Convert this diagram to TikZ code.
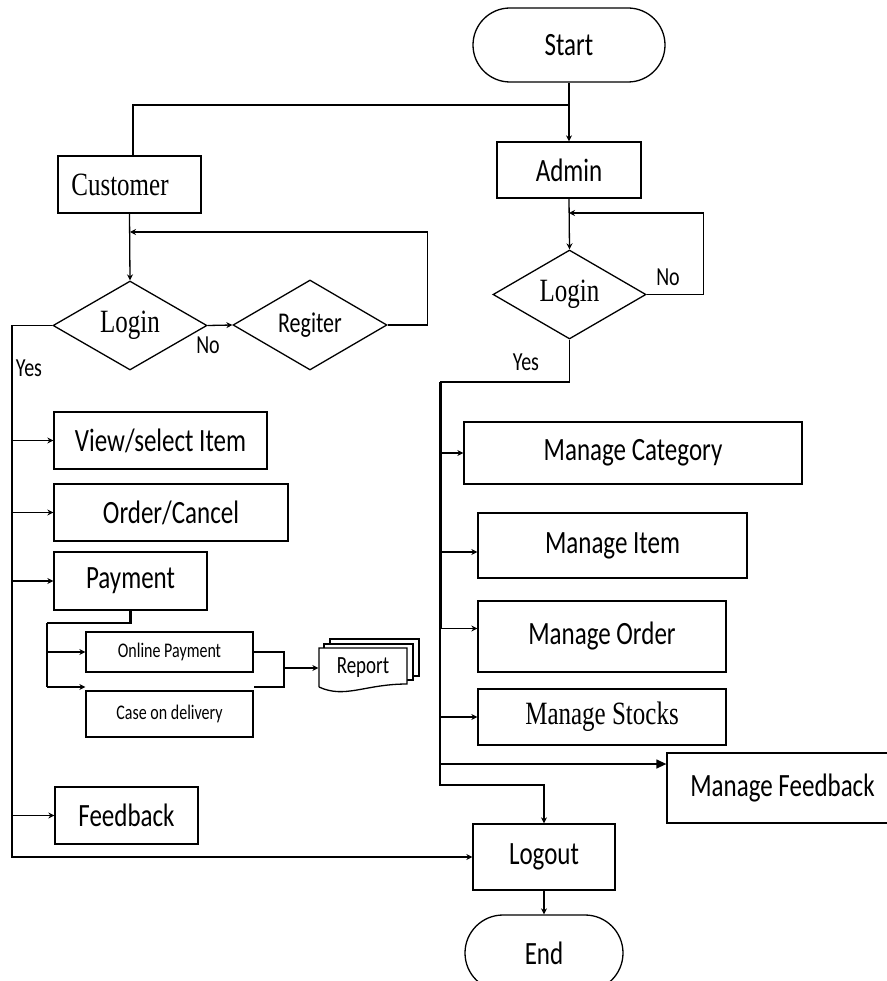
\documentclass[tikz,border=0pt]{standalone}
\usepackage{fontspec}
\setmainfont{Carlito}
\newfontfamily\tmsfont{Liberation Serif}
\usepackage{graphicx}
\usetikzlibrary{arrows.meta,shapes.geometric,calc}
\newcommand{\vtxt}[1]{\scalebox{1}[1.3]{#1}}
\begin{document}
\begin{tikzpicture}[x=1pt,y=-1pt,line width=1.3pt,
  box/.style={draw,rectangle,inner sep=0pt,font=\fontsize{25}{30}\selectfont},
  tbox/.style={box,font=\tmsfont\fontsize{25}{30}\selectfont},
  sbox/.style={draw,rectangle,inner sep=0pt,font=\fontsize{16}{20}\selectfont},
  pill/.style={draw,rectangle,inner sep=0pt,font=\fontsize{25}{30}\selectfont},
  dia/.style={draw,diamond,aspect=1.7,inner sep=0pt,font=\fontsize{25}{30}\selectfont},
  tdia/.style={dia,font=\tmsfont\fontsize{25}{30}\selectfont},
  arr/.style={-{Stealth[length=6pt,width=6pt]}},
  lbl/.style={inner sep=0pt,font=\fontsize{20}{24}\selectfont}]
\useasboundingbox (0,0) rectangle (886,981);

% nodes
\node[pill,minimum width=192pt,minimum height=74pt,rounded corners=37pt] (start) at (569,45) {\vtxt{Start}};
\node[tbox,minimum width=143pt,minimum height=57pt] (customer) at (129.5,184.5) {\vtxt{Customer}\hspace*{19pt}};
\node[box,minimum width=144pt,minimum height=56pt] (admin) at (569,170) {\vtxt{Admin}};
\node[tdia,minimum width=153pt,minimum height=89pt] (login2) at (569.5,294.5) {\vtxt{Login}};
\node[tdia,minimum width=154pt,minimum height=89pt] (login1) at (130,325.5) {\vtxt{Login}};
\node[dia,minimum width=154pt,minimum height=90pt,font=\fontsize{22}{26}\selectfont] (register) at (310,325) {\vtxt{Regiter}};
\node[box,minimum width=213pt,minimum height=57pt] (view) at (160.5,440.5) {\vtxt{View/select Item}};
\node[box,minimum width=234pt,minimum height=57pt] (order) at (171,512.5) {\vtxt{Order/Cancel}};
\node[box,minimum width=153pt,minimum height=58pt] (payment) at (130.5,581) {\vtxt{Payment}};
\node[sbox,minimum width=167pt,minimum height=40pt] (online) at (169.5,652) {\vtxt{Online Payment}};
\node[sbox,minimum width=167pt,minimum height=46pt] (cod) at (169.5,714) {\vtxt{Case on delivery}};
\node[box,minimum width=143pt,minimum height=57pt] (feedback) at (126.5,815.5) {\vtxt{Feedback}};
\node[box,minimum width=338pt,minimum height=62pt] (mcat) at (633,453) {\vtxt{Manage Category}};
\node[box,minimum width=269pt,minimum height=65pt] (mitem) at (612.5,545.5) {\vtxt{Manage Item}};
\node[box,minimum width=248pt,minimum height=71pt] (morder) at (602,636.5) {\vtxt{Manage Order}};
\node[tbox,minimum width=248pt,minimum height=56pt] (mstock) at (602,717) {\vtxt{Manage Stocks}};
\node[box,minimum width=231pt,minimum height=70pt] (mfeed) at (782.5,788) {\vtxt{Manage Feedback}};
\node[box,minimum width=142pt,minimum height=66pt] (logout) at (544,857) {\vtxt{Logout}};
\node[pill,minimum width=158pt,minimum height=76pt,rounded corners=38pt] (end) at (544,953) {\vtxt{End}};

% report (multi-document)
\draw[fill=white] (330,676) -- (330,639) -- (419,639) -- (419,676) -- cycle;
\draw[fill=white] (324,680) -- (324,644) -- (413,644) -- (413,680) -- cycle;
\draw[fill=white] (319,687) -- (319,648) -- (407,648) -- (407,684)
  .. controls (365,684) and (345,699) .. (319,687);
\node[inner sep=0pt,minimum width=88pt,minimum height=40pt,font=\fontsize{19}{22}\selectfont] (report) at (363,668) {\vtxt{Report}};

% labels
\node[lbl] (yes1) at (29,368) {\vtxt{Yes}};
\node[lbl] (no1) at (208,345) {\vtxt{No}};
\node[lbl] (no2) at (668,277) {\vtxt{No}};
\node[lbl] (yes2) at (526,362) {\vtxt{Yes}};

% coordinates
\coordinate (split) at (569,105);
\coordinate (cl) at (12,0);
\coordinate (pb) at (47,623);
\coordinate (pc) at (47,687);
\coordinate (rj) at (284,0);
\coordinate (ay) at (440,382);
\coordinate (ab) at (440,628);
\coordinate (ae) at (440,785);
\coordinate (mi) at ([yshift=-6.5pt]mitem.west);
\coordinate (mo) at ([yshift=8pt]morder.west);
\coordinate (mf) at ([yshift=24pt]mfeed.west);

% connectors: top
\draw[arr] (start.south) -- (admin.north);
\draw (split) -| ([xshift=3.5pt]customer.north);
\draw[arr] (customer.south) -- (login1.north);
\draw[arr] (login1.east) -- (register.west);
\draw[arr] (register.east) -- ++(40,0) |- (login1.north |- 0,232);

% customer branch
\draw[arr] (login1.west) -- (login1.west -| cl) -- (cl |- logout.west) -- (logout.west);
\draw[arr] (cl |- view.west) -- (view.west);
\draw[arr] (cl |- order.west) -- (order.west);
\draw[arr] (cl |- payment.west) -- (payment.west);
\draw[arr] (cl |- feedback.west) -- (feedback.west);

% payment branch
\draw[line width=2.6pt] (payment.south) |- (pb);
\draw (pb) -- (pc);
\draw[arr] (pb |- online.west) -- (online.west);
\draw[arr] (pc) -- (pc -| cod.west);
\draw (online.east) -| (rj |- pc) -- (pc -| cod.east);
\draw[arr] (rj |- report.west) -- (report.west);

% admin branch
\draw[arr] (admin.south) -- (login2.north);
\draw[arr] (login2.east) -- ++(57,0) |- (admin.south |- 0,213);
\draw[line width=1.6pt] (login2.south) |- (ay);
\draw[line width=3pt] (ay) -- (ab);
\draw[arr] (ab) -- (ae) -| (logout.north);
\draw[arr] (ay |- mcat.west) -- (mcat.west);
\draw[arr] (ay |- mi) -- (mi);
\draw[arr] (ay |- mo) -- (mo);
\draw[arr] (ay |- mstock.west) -- (mstock.west);
\draw[-{Triangle[length=10pt,width=9pt]}] (ay |- mf) -- (mf);
\draw[arr] (logout.south) -- (end.north);
\end{tikzpicture}
\end{document}
